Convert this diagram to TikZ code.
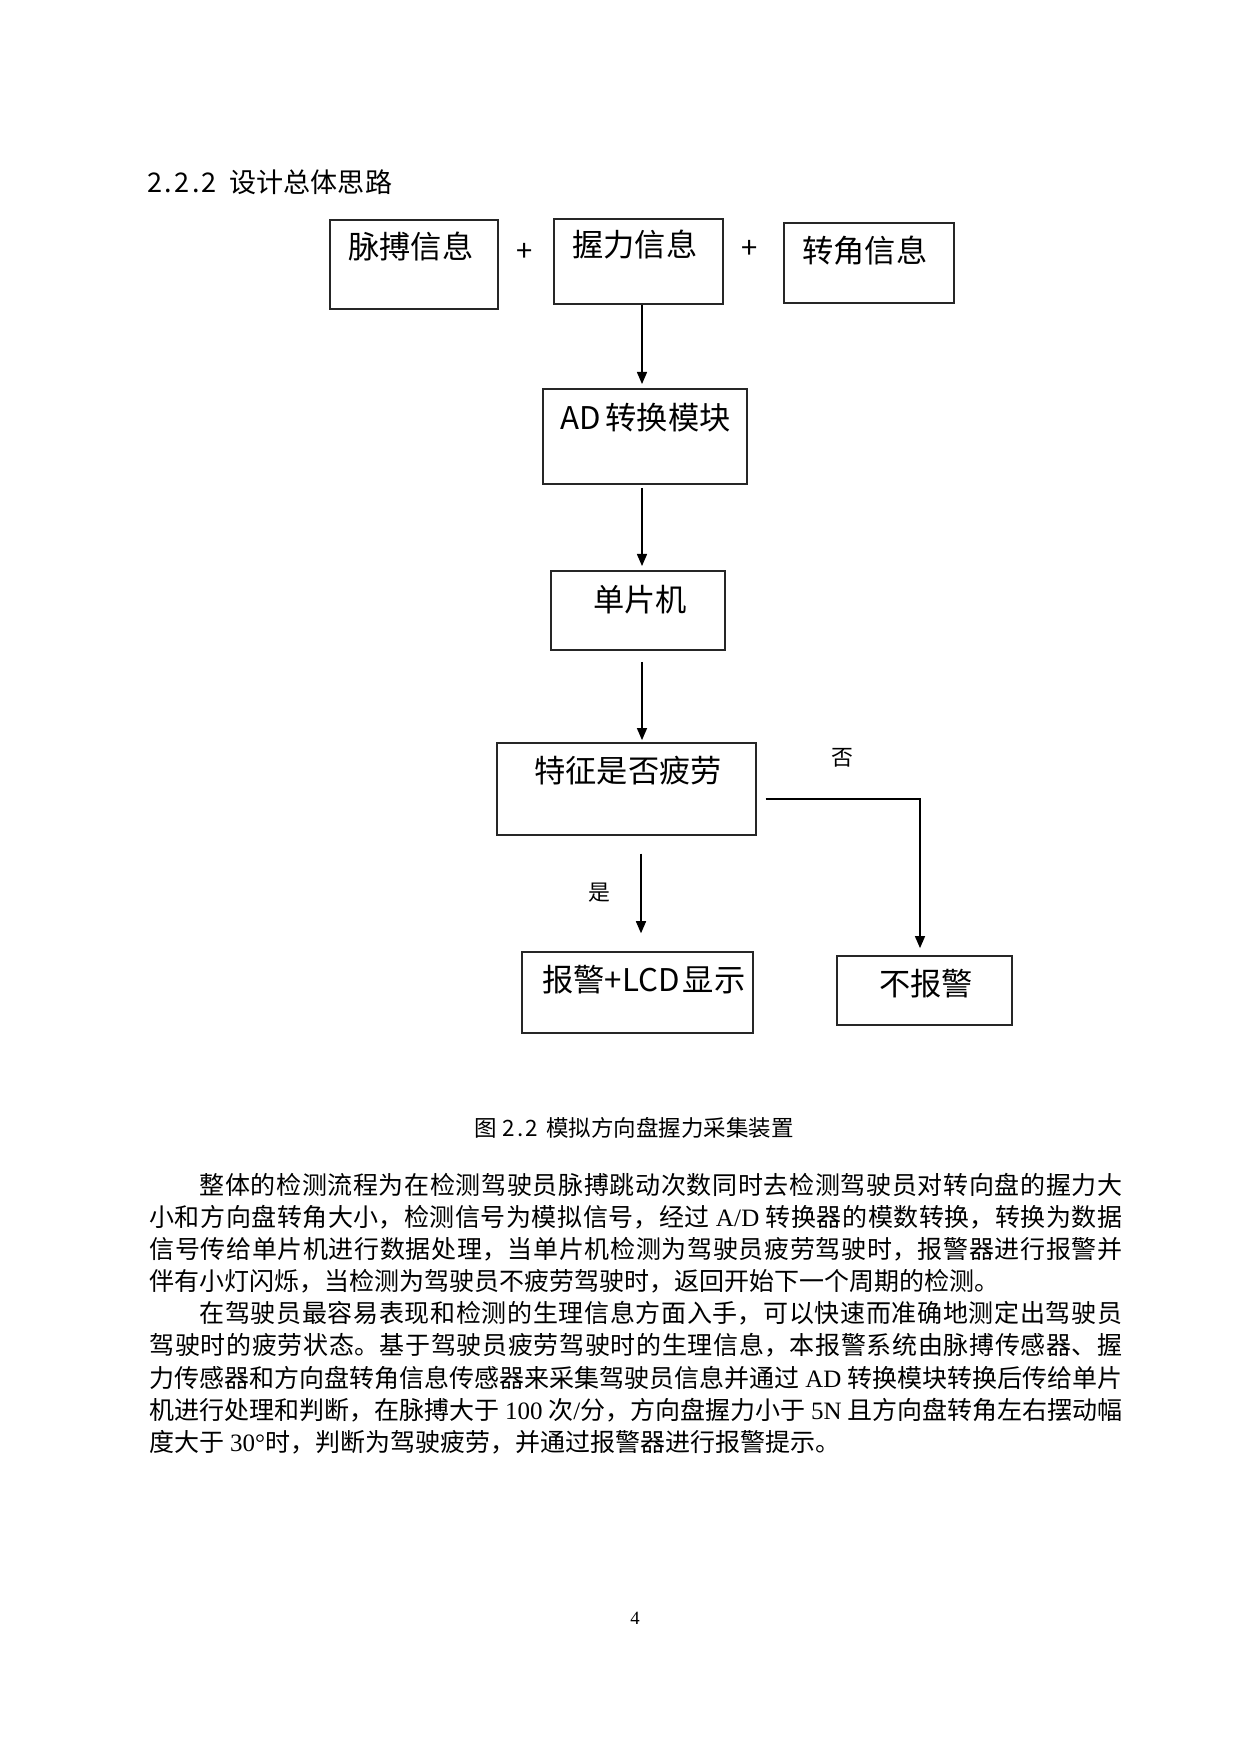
\documentclass[tikz,border=0pt]{standalone}
\usepackage{fontspec}
\setmainfont{Liberation Serif}
\newfontfamily\cjk{Noto Sans CJK SC}
\newfontfamily\lat{Liberation Serif}
\usetikzlibrary{arrows.meta,fit}
\XeTeXlinebreaklocale "zh"
\XeTeXlinebreakskip=0pt plus 1pt
\newcommand{\hw}[1]{\makebox[.5em]{#1}}
\begin{document}
\begin{tikzpicture}[x=0.48pt,y=-0.48pt,
  box/.style={draw=black!85, line width=0.75pt, inner sep=0pt},
  boxtext/.style={anchor=west, inner sep=0pt, font=\cjk\fontsize{15pt}{18pt}\selectfont},
  lbl/.style={inner sep=0pt, font=\cjk\fontsize{10.5pt}{12pt}\selectfont},
  plus/.style={inner sep=0pt, font=\cjk\fontsize{14pt}{16pt}\selectfont},
  arr/.style={draw=black, line width=0.72pt, -{Triangle[length=5.8pt,width=4.8pt]}}]
\fill[white] (0,0) rectangle (1240,1754);
\useasboundingbox (0,0) rectangle (1240,1754);

% heading
\node[anchor=west, inner sep=0pt, font=\cjk\fontsize{13pt}{15pt}\selectfont] (head) at (148,182)
  {\hw{2}\hw{.}\hw{2}\hw{.}\hw{2}\hspace{0.5em}设计总体思路};

% boxes
\node[box, fit={(330,220) (498,309)}] (b1) {};
\node[box, fit={(554,219) (723,304)}] (b2) {};
\node[box, fit={(784,223) (954,303)}] (b3) {};
\node[box, fit={(543,389) (747,484)}] (ad) {};
\node[box, fit={(551,571) (725,650)}] (mcu) {};
\node[box, fit={(497,743) (756,835)}] (judge) {};
\node[box, fit={(522,952) (753,1033)}] (alarm) {};
\node[box, fit={(837,956) (1012,1025)}] (noalarm) {};

% box texts
\node[boxtext] (t1) at (348,247) {脉搏信息};
\node[boxtext] (t2) at (572,245) {握力信息};
\node[boxtext] (t3) at (802,251) {转角信息};
\node[boxtext] (tad) at (560,418) {AD\hspace{0.15em}转换模块};
\node[boxtext] (tmcu) at (593,600) {单片机};
\node[boxtext] (tj) at (534,771) {特征是否疲劳};
\node[boxtext] (ta) at (542,980) {报警+LCD\hspace{0.1em}显示};
\node[boxtext] (tn) at (879,984) {不报警};

% plus signs and labels
\node[plus] (plus1) at (525,252) {+};
\node[plus] (plus2) at (750,249) {+};
\node[lbl] (nolbl) at (842,758) {否};
\node[lbl] (yeslbl) at (599,893) {是};

% connectors
\coordinate (col) at (642,0);
\coordinate (ycol) at (641,0);
\coordinate (nocorner) at (920,799);
\draw[arr, shorten >=2pt] (b2.south -| col) -- (ad.north -| col);
\draw[arr, shorten <=1.5pt, shorten >=2pt] (ad.south -| col) -- (mcu.north -| col);
\draw[arr, shorten <=5.3pt, shorten >=1pt] (mcu.south -| col) -- (judge.north -| col);
\draw[arr, shorten <=8.6pt, shorten >=8.6pt] (judge.south -| ycol) -- (alarm.north -| ycol);
\draw[arr, shorten <=4.3pt, shorten >=3.4pt] (judge.east |- nocorner) -- (nocorner) -- (noalarm.north -| nocorner);

% caption
\node[inner sep=0pt, font=\cjk\fontsize{10.8pt}{12pt}\selectfont] (cap) at (634,1128)
  {图\hspace{0.3em}\hw{2}\hw{.}\hw{2}\hspace{0.4em}模拟方向盘握力采集装置};

% body text
\node[anchor=base west, text width=467pt, align=justify, inner sep=0pt,
      font=\cjk\fontsize{12pt}{15.45pt}\selectfont] (body) at (149,1194) {%
\hspace*{2em}整体的检测流程为在检测驾驶员脉搏跳动次数同时去检测驾驶员对转向盘的握力大\linebreak
小和方向盘转角大小，检测信号为模拟信号，经过 {\lat A/D} 转换器的模数转换，转换为数据\linebreak
信号传给单片机进行数据处理，当单片机检测为驾驶员疲劳驾驶时，报警器进行报警并\linebreak
伴有小灯闪烁，当检测为驾驶员不疲劳驾驶时，返回开始下一个周期的检测。\par
\hspace*{2em}在驾驶员最容易表现和检测的生理信息方面入手，可以快速而准确地测定出驾驶员\linebreak
驾驶时的疲劳状态。基于驾驶员疲劳驾驶时的生理信息，本报警系统由脉搏传感器、握\linebreak
力传感器和方向盘转角信息传感器来采集驾驶员信息并通过 {\lat AD} 转换模块转换后传给单片\linebreak
机进行处理和判断，在脉搏大于 {\lat 100} 次{\lat /}分，方向盘握力小于 {\lat 5N} 且方向盘转角左右摆动幅\linebreak
度大于 {\lat 30°}时，判断为驾驶疲劳，并通过报警器进行报警提示。\par};

% page number
\node[inner sep=0pt, font=\lat\fontsize{9pt}{11pt}\selectfont] (pg) at (635,1618) {4};
\end{tikzpicture}
\end{document}
